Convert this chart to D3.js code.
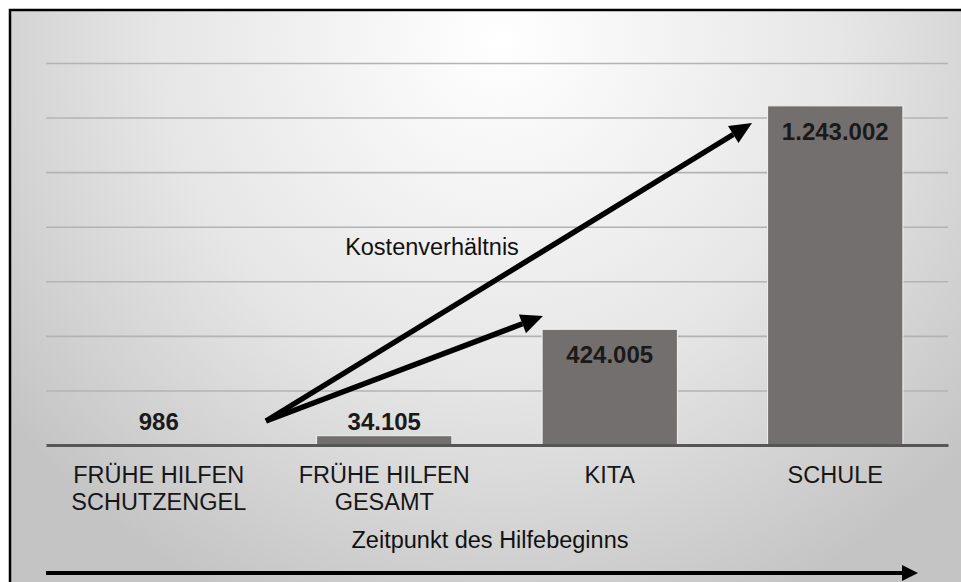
<!DOCTYPE html>
<html>
<head>
<meta charset="utf-8">
<script src="https://cdn.jsdelivr.net/npm/d3@7"></script>
<style>
  html, body { margin: 0; padding: 0; background: #fff; }
  svg { display: block; font-family: "Liberation Sans", Arial, sans-serif; }
</style>
</head>
<body>
<svg id="chart" width="961" height="582"></svg>
<script>
// data
const categories = ['FRÜHE HILFEN SCHUTZENGEL', 'FRÜHE HILFEN GESAMT', 'KITA', 'SCHULE'];
const catLines = [['FRÜHE HILFEN', 'SCHUTZENGEL'], ['FRÜHE HILFEN', 'GESAMT'], ['KITA'], ['SCHULE']];
const costs = [986, 34105, 424005, 1243002];
const costLabels = ['986', '34.105', '424.005', '1.243.002'];
const gridTicks = [200000, 400000, 600000, 800000, 1000000, 1200000, 1400000];

const W = 961, H = 582;
const svg = d3.select('#chart');

// background with soft radial gradient, framed box
const defs = svg.append('defs');
const grad = defs.append('radialGradient')
  .attr('id', 'bg').attr('gradientUnits', 'userSpaceOnUse')
  .attr('cx', 500).attr('cy', 40).attr('r', 620);
grad.append('stop').attr('offset', '0%').attr('stop-color', '#ffffff');
grad.append('stop').attr('offset', '55%').attr('stop-color', '#e6e6e6');
grad.append('stop').attr('offset', '100%').attr('stop-color', '#c4c4c4');

svg.append('rect').attr('x', 10).attr('y', 10).attr('width', W).attr('height', H)
  .attr('fill', 'url(#bg)').attr('stroke', '#000').attr('stroke-width', 2.5);

const x = d3.scaleBand().domain(categories).range([46, 948]).paddingInner(0.4).paddingOuter(0.2);
const y = d3.scaleLinear().domain([0, 1400000]).range([445, 63]);

// gridlines
svg.append('g')
  .attr('transform', 'translate(46,0)')
  .call(d3.axisLeft(y).tickValues(gridTicks).tickSize(-902).tickFormat(''))
  .call(g => g.select('.domain').remove())
  .call(g => g.selectAll('.tick line').attr('stroke', '#b3b3b3').attr('stroke-width', 1.6));

// bars
svg.append('g').selectAll('rect')
  .data(costs)
  .join('rect')
  .attr('x', (d, i) => x(categories[i]))
  .attr('y', d => y(d))
  .attr('width', x.bandwidth())
  .attr('height', d => y(0) - y(d))
  .attr('fill', '#746f6f')
  .attr('stroke', '#f2f2f2')
  .attr('stroke-width', 1);

// baseline
svg.append('g')
  .attr('transform', `translate(0,${y(0)})`)
  .call(d3.axisBottom(x).tickSize(0).tickFormat(''))
  .call(g => g.select('.domain').attr('stroke', '#565656').attr('stroke-width', 3));

// value labels
svg.append('g').selectAll('text')
  .data(costs)
  .join('text')
  .attr('x', (d, i) => x(categories[i]) + x.bandwidth() / 2)
  .attr('y', d => (y(0) - y(d) > 50) ? y(d) + 34 : y(0) - 15)
  .attr('text-anchor', 'middle')
  .attr('font-size', 24)
  .attr('font-weight', 'bold')
  .attr('fill', '#1a1a1a')
  .text((d, i) => costLabels[i]);

// category labels
const cat = svg.append('g').selectAll('text')
  .data(catLines)
  .join('text')
  .attr('text-anchor', 'middle')
  .attr('font-size', 23.5)
  .attr('fill', '#161616');
cat.selectAll('tspan')
  .data((d, i) => d.map(s => ({ s, i })))
  .join('tspan')
  .attr('x', d => x(categories[d.i]) + x.bandwidth() / 2)
  .attr('y', (d, j) => 483 + j * 27)
  .text(d => d.s);

// arrows
function arrow(x1, y1, x2, y2, w, len, half) {
  const a = Math.atan2(y2 - y1, x2 - x1);
  const bx = x2 - len * Math.cos(a), by = y2 - len * Math.sin(a);
  svg.append('line')
    .attr('x1', x1).attr('y1', y1).attr('x2', bx).attr('y2', by)
    .attr('stroke', '#000').attr('stroke-width', w);
  const px = -Math.sin(a), py = Math.cos(a);
  svg.append('path')
    .attr('d', `M${x2},${y2}L${bx + px * half},${by + py * half}L${bx - px * half},${by - py * half}Z`)
    .attr('fill', '#000');
}
arrow(266, 421, 752, 123, 5.5, 22, 10);
arrow(266, 421, 543, 316, 5.5, 22, 10);
arrow(46, 573, 918, 573, 4, 16, 8);

svg.append('text').attr('x', 432).attr('y', 255).attr('text-anchor', 'middle')
  .attr('font-size', 23.5).attr('fill', '#111').text('Kostenverhältnis');

svg.append('text').attr('x', 490).attr('y', 548).attr('text-anchor', 'middle')
  .attr('font-size', 23.5).attr('fill', '#111').text('Zeitpunkt des Hilfebeginns');
</script>
</body>
</html>
